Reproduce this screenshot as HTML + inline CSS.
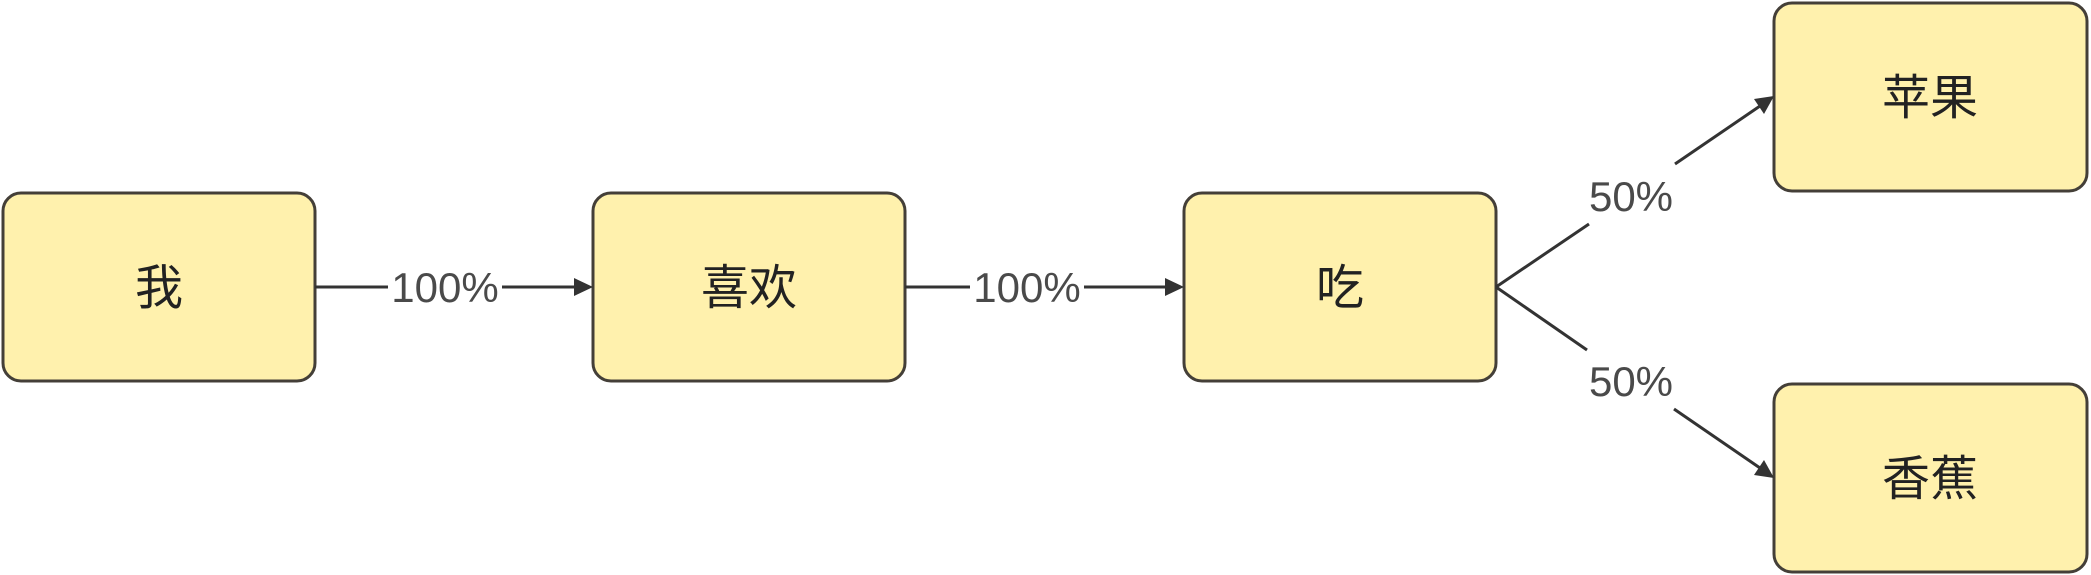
<!DOCTYPE html>
<html><head><meta charset="utf-8"><style>
html,body{margin:0;padding:0;background:#fff;}
svg{display:block}
</style></head><body>
<svg width="2091" height="575" viewBox="0 0 2091 575" xmlns="http://www.w3.org/2000/svg">
<g fill="#fff1ad" stroke="#443f38" stroke-width="3">
<rect x="3" y="193" width="312" height="188" rx="18"/>
<rect x="593" y="193" width="312" height="188" rx="18"/>
<rect x="1184" y="193" width="312" height="188" rx="18"/>
<rect x="1774" y="3" width="313" height="188" rx="18"/>
<rect x="1774" y="384" width="313" height="188" rx="18"/>
</g>
<g stroke="#333" stroke-width="3" fill="none">
<line x1="315" y1="287" x2="388" y2="287"/>
<line x1="502" y1="287" x2="577" y2="287"/>
<line x1="905" y1="287" x2="970" y2="287"/>
<line x1="1084" y1="287" x2="1168" y2="287"/>
<line x1="1496" y1="287" x2="1589" y2="224"/>
<line x1="1675" y1="164" x2="1760" y2="106"/>
<line x1="1496" y1="287" x2="1587" y2="350"/>
<line x1="1674" y1="409" x2="1760" y2="468"/>
</g>
<g fill="#333">
<polygon points="593,287 574,278 574,296"/>
<polygon points="1184,287 1165,278 1165,296"/>
<polygon points="1774,96 1754,99 1764,114"/>
<polygon points="1774,478 1764,460 1754,475"/>
</g>
<g font-family="Liberation Sans, sans-serif" font-size="42" fill="#4a4a4a" text-anchor="middle">
<text x="445" y="302">100%</text>
<text x="1027" y="302">100%</text>
<text x="1631" y="211">50%</text>
<text x="1631" y="396">50%</text>
</g>
<g font-family="'Noto Sans CJK SC', 'WenQuanYi Zen Hei', sans-serif" font-size="48" fill="#222" text-anchor="middle">
<text x="159" y="304">我</text>
<text x="749" y="304">喜欢</text>
<text x="1340" y="304">吃</text>
<text x="1930" y="114">苹果</text>
<text x="1930" y="495">香蕉</text>
</g>
</svg>
</body></html>
